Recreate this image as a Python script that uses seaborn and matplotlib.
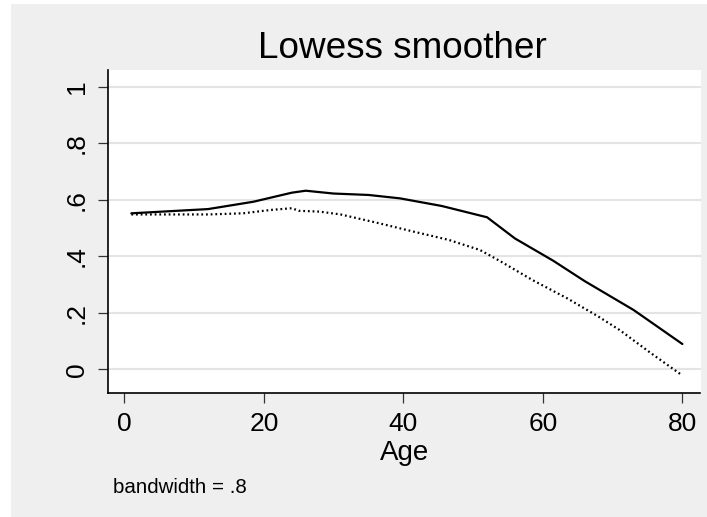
import matplotlib
matplotlib.use("Agg")
import matplotlib.pyplot as plt
import seaborn as sns
import pandas as pd

# Lowess fits by age
age_a = [1, 12, 18.5, 24, 26, 30, 35, 39.5, 45.5, 52, 56, 61.5, 66, 73, 80]
fit_a = [0.552, 0.567, 0.593, 0.625, 0.632, 0.622, 0.617, 0.605, 0.578, 0.538,
         0.463, 0.384, 0.312, 0.210, 0.0895]

age_b = [1, 12, 17, 21, 24, 25, 28, 31, 36.5, 41.5, 46.5, 51, 54, 58.5, 63.5,
         68, 71, 75.5, 80]
fit_b = [0.548, 0.548, 0.552, 0.564, 0.570, 0.561, 0.558, 0.548, 0.517, 0.487,
         0.458, 0.422, 0.381, 0.316, 0.251, 0.186, 0.139, 0.057, -0.022]

x_ticks = [0, 20, 40, 60, 80]
y_ticks = [0, 0.2, 0.4, 0.6, 0.8, 1.0]
y_tick_labels = ["0", ".2", ".4", ".6", ".8", "1"]

sns.set_theme(style="white")
plt.rcParams["font.family"] = ["Liberation Sans", "DejaVu Sans"]

W, H = 707, 517
fig = plt.figure(figsize=(W / 100, H / 100), dpi=100, facecolor="white")

# light gray graph region
bg = plt.Rectangle((11 / W, 0), 1 - 11 / W, 1 - 4 / H, transform=fig.transFigure,
                   facecolor="#efefef", edgecolor="none", zorder=-10)
fig.patches.append(bg)

ax = fig.add_axes([107.7 / W, 1 - 393 / H, (700.5 - 107.7) / W, (393 - 69.5) / H])
ax.set_facecolor("white")

df_a = pd.DataFrame({"Age": age_a, "fit": fit_a})
df_b = pd.DataFrame({"Age": age_b, "fit": fit_b})

sns.lineplot(data=df_a, x="Age", y="fit", ax=ax, color="black", lw=1.6,
             estimator=None, sort=False, zorder=3)
sns.lineplot(data=df_b, x="Age", y="fit", ax=ax, color="black", lw=1.6,
             estimator=None, sort=False, linestyle=(0, (0.8, 1.3)), zorder=3)

ax.set_xlim(-2.39, 82.6)
ax.set_ylim(-0.0839, 1.061)
ax.set_xticks(x_ticks)
ax.set_xticklabels([str(v) for v in x_ticks])
ax.set_yticks(y_ticks)
ax.set_yticklabels(y_tick_labels, rotation=90, va="center")

for y in y_ticks:
    ax.axhline(y, color="#e4e4e4", lw=1.5, zorder=1)

for side in ["top", "right"]:
    ax.spines[side].set_visible(False)
for side in ["left", "bottom"]:
    ax.spines[side].set_color("black")
    ax.spines[side].set_linewidth(1.2)

ax.tick_params(axis="both", which="major", direction="out", length=7.5,
               width=0.9, color="#333333", labelsize=19, labelcolor="black",
               left=True, bottom=True)
ax.tick_params(axis="x", pad=6)
ax.tick_params(axis="y", pad=6)

ax.set_xlabel("")
ax.set_ylabel("")

cx = (107.7 + 700.5) / 2 / W
fig.text(cx - 2 / W, 1 - 57.7 / H, "Lowess smoother", ha="center", va="baseline",
         fontsize=26.6, color="black")
fig.text(cx, 1 - 460 / H, "Age", ha="center", va="baseline", fontsize=20,
         color="black")
fig.text(112.7 / W, 1 - 493.3 / H, "bandwidth = .8", ha="left", va="baseline",
         fontsize=14.8, color="black")

fig.savefig("out.png", dpi=100, facecolor=fig.get_facecolor())
